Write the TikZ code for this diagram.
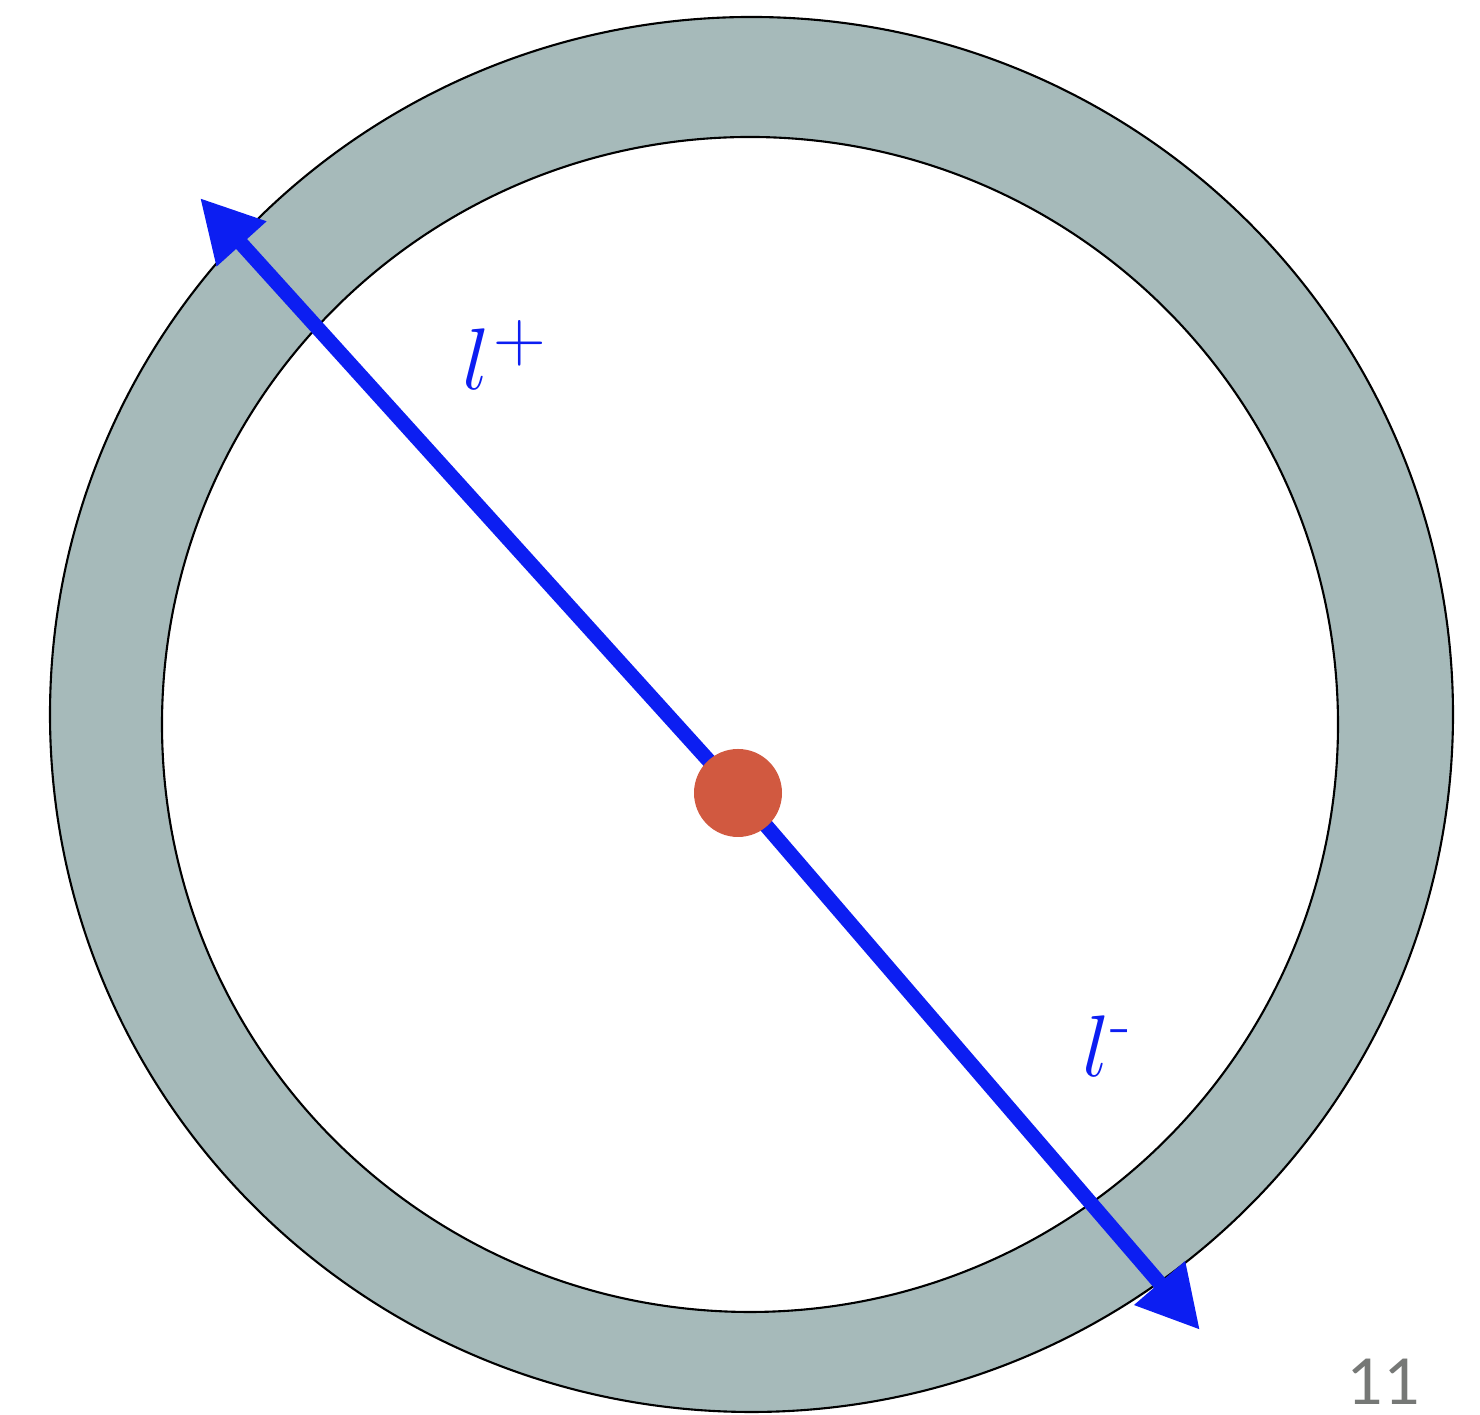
\documentclass[tikz,border=0pt]{standalone}
\usepackage{fontspec}
\newfontfamily\pagefont{Lato}
\usepackage{tikz}
\usetikzlibrary{arrows.meta,positioning}
\usepackage{xcolor}
\definecolor{ringgrey}{RGB}{166,186,186}
\definecolor{beamblue}{RGB}{12,30,242}
\definecolor{vertexred}{RGB}{209,89,64}
\definecolor{pagegrey}{RGB}{118,120,118}

\begin{document}
\begin{tikzpicture}[
    ring/.style={draw=black, line width=0.6pt},
    arr/.style={-{Triangle[length=6.2mm, width=6.3mm]}, line width=4.2pt, beamblue},
    vertex/.style={circle, fill=vertexred, minimum size=0.88cm, inner sep=0pt},
    lbl/.style={text=beamblue, inner sep=0pt, font=\fontsize{34}{36}\selectfont}
]
\useasboundingbox (0,0) rectangle (14.8,14.15);

% detector ring
\draw[ring, fill=ringgrey] (7.515,7.005) ellipse [x radius=7.015, y radius=6.975];
\draw[ring, fill=white]    (7.50,6.905)  ellipse [x radius=5.88, y radius=5.875];

% decay vertex and outgoing leptons
\coordinate (o) at (7.38,6.22);
\coordinate (lp) at (2.00,12.17);
\coordinate (lm) at (12.00,0.85);
\draw[arr] (o) -- (lp);
\draw[arr] (o) -- (lm);
\node[vertex] (vtx) at (o) {};

\node[lbl, anchor=base west] (lplus) at (4.62,10.25)
    {$l$\kern1pt\raisebox{8pt}{\fontsize{22}{22}\selectfont$+$}};
\node[lbl, anchor=base west] (lminus) at (10.82,3.38)
    {$l$\raisebox{9pt}{\fontsize{19}{19}\selectfont -}};

\node[anchor=base east, inner sep=0pt, text=pagegrey, font=\pagefont\fontsize{18}{18}\selectfont] (page) at (14.22,0.1) {11};
\end{tikzpicture}
\end{document}
